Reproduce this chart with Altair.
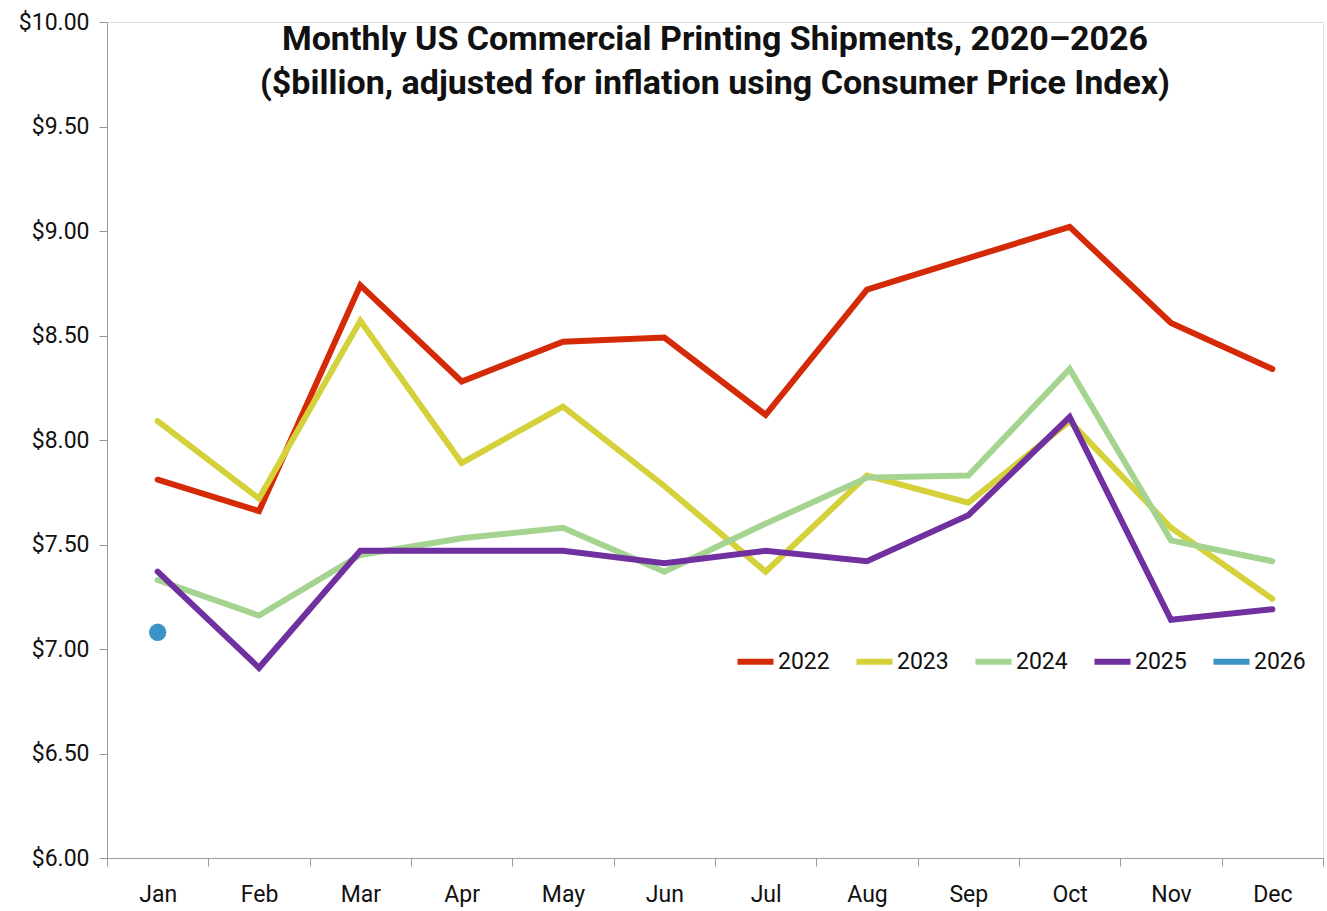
import altair as alt
import pandas as pd

months = ["Jan", "Feb", "Mar", "Apr", "May", "Jun", "Jul", "Aug", "Sep", "Oct", "Nov", "Dec"]
years = ["2022", "2023", "2024", "2025", "2026"]
v2022 = [7.81, 7.66, 8.74, 8.28, 8.47, 8.49, 8.12, 8.72, 8.87, 9.02, 8.56, 8.34]
v2023 = [8.09, 7.72, 8.57, 7.89, 8.16, 7.78, 7.37, 7.83, 7.70, 8.09, 7.58, 7.24]
v2024 = [7.33, 7.16, 7.45, 7.53, 7.58, 7.37, 7.60, 7.82, 7.83, 8.34, 7.52, 7.42]
v2025 = [7.37, 6.91, 7.47, 7.47, 7.47, 7.41, 7.47, 7.42, 7.64, 8.11, 7.14, 7.19]
v2026 = [7.08]
colors = ["#D42A08", "#D4D13A", "#A4D490", "#7030A0", "#3C94C6"]

rows = []
for yr, vals in zip(years, [v2022, v2023, v2024, v2025, v2026]):
    for m, v in zip(months, vals):
        rows.append({"month": m, "year": yr, "value": v})
df = pd.DataFrame(rows)
df26 = df[df["year"] == "2026"]

FONT = "Roboto, sans-serif"

x_enc = alt.X(
    "month:N", sort=months, bandPosition=0.5,
    scale=alt.Scale(type="band", paddingInner=0, paddingOuter=0, domain=months),
    axis=alt.Axis(title=None, tickBand="extent", labelAngle=0, labelFontSize=23, labelFont=FONT,
                  labelColor="#111", domainColor="#999", tickColor="#999", tickSize=8,
                  labelPadding=17, grid=False),
)
y_enc = alt.Y(
    "value:Q",
    scale=alt.Scale(domain=[6, 10], nice=False, zero=False),
    axis=alt.Axis(title=None, format="$.2f", values=[6, 6.5, 7, 7.5, 8, 8.5, 9, 9.5, 10],
                  labelFontSize=23, labelFont=FONT, labelColor="#111", domainColor="#999",
                  tickColor="#999", tickSize=8, labelPadding=10, grid=False),
)

lines = alt.Chart(df).mark_line(strokeWidth=6, strokeCap="round", strokeJoin="miter").encode(
    x=x_enc,
    y=y_enc,
    color=alt.Color(
        "year:N",
        scale=alt.Scale(domain=years, range=colors),
        legend=alt.Legend(
            title=None, orient="none", legendX=627, legendY=618, direction="horizontal",
            symbolType="stroke", symbolStrokeWidth=6, symbolSize=1300,
            labelFontSize=23, labelFont=FONT, labelColor="#111", columnPadding=14,
            labelOffset=1,
        ),
    ),
)

point = alt.Chart(df26).mark_circle(size=300, opacity=1, color="#3C94C6").encode(
    x=x_enc, y=y_enc
)

chart = alt.layer(lines, point).properties(
    width=1216,
    height=836,
    autosize=alt.AutoSizeParams(type="none"),
    padding={"left": 107, "top": 22, "right": 4, "bottom": 53},
    title=alt.Title(
        text=["Monthly US Commercial Printing Shipments, 2020–2026",
              "($billion, adjusted for inflation using Consumer Price Index)"],
        font=FONT, fontSize=34, fontWeight="bold", color="#111", anchor="middle",
        lineHeight=44, offset=-90,
    ),
).configure_view(stroke=None).configure(background="white")

chart.save("out.html", embed_options={"renderer": "svg", "actions": False})
